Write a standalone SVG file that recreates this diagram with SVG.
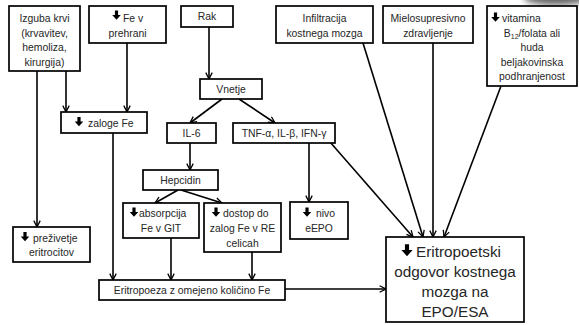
<svg xmlns="http://www.w3.org/2000/svg" width="579" height="325" viewBox="0 0 579 325">
<style>
.box{fill:#fff;stroke:#000;stroke-width:1.7}
.t{font-family:"Liberation Sans",Arial,sans-serif;font-size:10.4px;fill:#262626}
.c{text-anchor:middle}
.big{font-size:15.3px}
.ln{fill:none;stroke:#000;stroke-width:1.6;marker-end:url(#ah)}
</style>
<defs>
<marker id="ah" viewBox="0 0 10 10" refX="9" refY="5" markerWidth="8" markerHeight="8" markerUnits="userSpaceOnUse" orient="auto">
<path d="M1,1 L9,5 L1,9" fill="none" stroke="#000" stroke-width="1.6"/>
</marker>
<path id="da" d="M-1.6,-4.5 H1.6 V0 H4.3 L0,4.8 L-4.3,0 H-1.6 Z" fill="#000"/>
<filter id="bl" x="-50%" y="-50%" width="200%" height="200%"><feGaussianBlur stdDeviation="3"/></filter>
</defs>
<rect width="579" height="325" fill="#fff"/>
<ellipse cx="556" cy="-2" rx="32" ry="7" fill="#666" filter="url(#bl)"/>

<g id="connectors">
<line class="ln" x1="37" y1="71" x2="37" y2="227"/>
<line class="ln" x1="66" y1="71" x2="66" y2="112"/>
<line class="ln" x1="127" y1="43" x2="127" y2="112"/>
<line class="ln" x1="209" y1="27" x2="209" y2="79"/>
<line class="ln" x1="222" y1="99" x2="190" y2="123"/>
<line class="ln" x1="239" y1="99" x2="275" y2="123"/>
<line class="ln" x1="190" y1="143" x2="190" y2="170"/>
<line class="ln" x1="178" y1="190" x2="155" y2="203"/>
<line class="ln" x1="181" y1="190" x2="222" y2="203"/>
<line class="ln" x1="309" y1="143" x2="309" y2="202"/>
<line class="ln" x1="330" y1="142" x2="413" y2="237"/>
<line class="ln" x1="363" y1="43" x2="423" y2="237"/>
<line class="ln" x1="433" y1="43" x2="433" y2="237"/>
<line class="ln" x1="501" y1="86" x2="444" y2="237"/>
<line class="ln" x1="113" y1="133" x2="113" y2="280"/>
<line class="ln" x1="171" y1="238" x2="171" y2="280"/>
<line class="ln" x1="252" y1="252" x2="252" y2="280"/>
<line class="ln" x1="285" y1="289" x2="386" y2="289"/>
</g>

<g id="izguba">
<rect class="box" x="9" y="6" width="71" height="65"/>
<text class="t c" x="44.5" y="22">Izguba krvi</text>
<text class="t c" x="44.5" y="36.5">(krvavitev,</text>
<text class="t c" x="44.5" y="51">hemoliza,</text>
<text class="t c" x="44.5" y="65.5">kirurgija)</text>
</g>

<g id="prehrana">
<rect class="box" x="89" y="6" width="77" height="37"/>
<use href="#da" x="116.5" y="15"/>
<text class="t" x="123" y="21.5">Fe v</text>
<text class="t c" x="127.5" y="36.5">prehrani</text>
</g>

<g id="rak">
<rect class="box" x="181" y="6" width="52" height="21"/>
<text class="t c" x="207" y="20">Rak</text>
</g>

<g id="infiltracija">
<rect class="box" x="276" y="6" width="97" height="37"/>
<text class="t c" x="324.5" y="22">Infiltracija</text>
<text class="t c" x="324.5" y="36.5">kostnega mozga</text>
</g>

<g id="mielo">
<rect class="box" x="383" y="6" width="90" height="37"/>
<text class="t c" x="428" y="22">Mielosupresivno</text>
<text class="t c" x="428" y="36.5">zdravljenje</text>
</g>

<g id="vitamina">
<rect class="box" x="487" y="6" width="90" height="80"/>
<use href="#da" x="495.5" y="17"/>
<text class="t" x="502" y="22">vitamina</text>
<text class="t c" x="532" y="36.5">B<tspan font-size="7" dy="2">12</tspan><tspan dy="-2">/folata ali</tspan></text>
<text class="t c" x="532" y="51">huda</text>
<text class="t c" x="532" y="65.5">beljakovinska</text>
<text class="t c" x="532" y="80">podhranjenost</text>
</g>

<g id="vnetje">
<rect class="box" x="200" y="79" width="62" height="20"/>
<text class="t c" x="231" y="92.5">Vnetje</text>
</g>

<g id="zaloge">
<rect class="box" x="61" y="112" width="86" height="21"/>
<use href="#da" x="79" y="121.5"/>
<text class="t" x="88" y="126.5">zaloge Fe</text>
</g>

<g id="il6">
<rect class="box" x="167" y="123" width="49" height="20"/>
<text class="t c" x="191.5" y="136.5">IL-6</text>
</g>

<g id="tnf">
<rect class="box" x="233" y="123" width="102" height="20"/>
<text class="t c" x="284" y="136.5">TNF-α, IL-β, IFN-γ</text>
</g>

<g id="hepcidin">
<rect class="box" x="143" y="170" width="75" height="20"/>
<text class="t c" x="180.5" y="183.5">Hepcidin</text>
</g>

<g id="absorpcija">
<rect class="box" x="123" y="203" width="76" height="35"/>
<use href="#da" x="134" y="212"/>
<text class="t" x="139" y="217">absorpcija</text>
<text class="t c" x="161" y="232">Fe v GIT</text>
</g>

<g id="dostop">
<rect class="box" x="204" y="203" width="77" height="49"/>
<use href="#da" x="216" y="212"/>
<text class="t" x="223" y="217">dostop do</text>
<text class="t c" x="242.5" y="232">zalog Fe v RE</text>
<text class="t c" x="242.5" y="246.5">celicah</text>
</g>

<g id="nivo">
<rect class="box" x="290" y="202" width="58" height="37"/>
<use href="#da" x="307" y="212"/>
<text class="t" x="316" y="217">nivo</text>
<text class="t c" x="319" y="232">eEPO</text>
</g>

<g id="prezivetje">
<rect class="box" x="13" y="227" width="77" height="35"/>
<use href="#da" x="25" y="236.5"/>
<text class="t" x="33" y="241.5">preživetje</text>
<text class="t c" x="51.5" y="256">eritrocitov</text>
</g>

<g id="eritropoeza">
<rect class="box" x="99" y="280" width="186" height="20"/>
<text class="t c" x="192" y="293.5">Eritropoeza z omejeno količino Fe</text>
</g>

<g id="eritropoetski">
<rect class="box" x="386" y="237" width="138" height="85"/>
<use href="#da" transform="translate(407,250) scale(1.3)"/>
<text class="t big" x="416" y="257">Eritropoetski</text>
<text class="t big c" x="455" y="277">odgovor kostnega</text>
<text class="t big c" x="455" y="297">mozga na</text>
<text class="t big c" x="455" y="317">EPO/ESA</text>
</g>
</svg>
